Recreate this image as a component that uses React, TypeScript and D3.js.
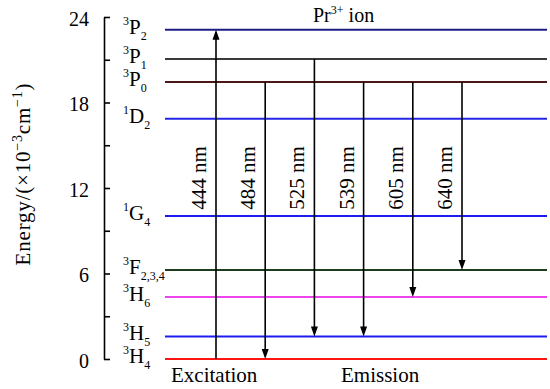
import React, { useEffect, useRef } from 'react';
import * as d3 from 'd3';

// energy levels of Pr3+ (x1000 cm^-1)
const levelNames = ['3P2', '3P1', '3P0', '1D2', '1G4', '3F', '3H6', '3H5', '3H4'];
const levelEnergy = [23.1, 21.05, 19.44, 16.86, 10.04, 6.25, 4.35, 1.58, 0];
const levelSup = ['3', '3', '3', '1', '1', '3', '3', '3', '3'];
const levelLetter = ['P', 'P', 'P', 'D', 'G', 'F', 'H', 'H', 'H'];
const levelSub = ['2', '1', '0', '2', '4', '2,3,4', '6', '5', '4'];
const levelColor = ['#1c1c86', '#3a3a3a', '#4a1818', '#2424e6', '#1c1cf0', '#1e3c1e', '#ee44ee', '#1c1cf0', '#ff1414'];

// transitions
const waveLengths = ['444', '484', '525', '539', '605', '640'];
const transFrom = ['3H4', '3P0', '3P1', '3P0', '3P0', '3P0'];
const transTo = ['3P2', '3H4', '3H5', '3H5', '3H6', '3F'];

const majorTicks = [0, 6, 12, 18, 24];
const minorTicks = [3, 9, 15, 21];

const W = 550;
const H = 389;
const font = 'Liberation Serif, Times New Roman, Times, serif';

const y = d3.scaleLinear().domain([0, 24]).range([359, 17]);
const x = d3.scalePoint().domain(waveLengths).range([216, 462]);
const axisX = 104;
const lineX0 = 165;
const lineX1 = 547;

const energyOf = (name: string) => levelEnergy[levelNames.indexOf(name)];

export default function App() {
  const axisRef = useRef<SVGGElement>(null);

  useEffect(() => {
    const g = d3.select(axisRef.current);
    g.selectAll('*').remove();

    const major = d3
      .axisLeft(y)
      .tickValues(majorTicks)
      .tickSizeInner(-6)
      .tickSizeOuter(0)
      .tickPadding(15)
      .tickFormat(d => d + '');
    const minor = d3
      .axisLeft(y)
      .tickValues(minorTicks)
      .tickSizeInner(-6)
      .tickSizeOuter(0)
      .tickFormat(() => '');

    g.append('g').call(major);
    g.append('g').call(minor).select('.domain').remove();

    g.selectAll('g').attr('font-family', null).attr('font-size', null);
    g.selectAll('path, line').attr('stroke', '#000').attr('stroke-width', 1.6);
    g.selectAll('text')
      .style('font-family', font)
      .style('font-size', '20px')
      .attr('fill', '#000')
      .attr('dy', '0.4em');
  }, []);

  const arrowHead = (xc: number, yTip: number, dir: number) => {
    const len = 10;
    const hw = 3.5;
    return `M${xc},${yTip} L${xc - hw},${yTip - dir * len} L${xc + hw},${yTip - dir * len} Z`;
  };

  return (
    <svg
      width={W}
      height={H}
      style={{ position: 'absolute', left: 0, top: 0, background: '#fff', fontFamily: font }}
    >
      <g ref={axisRef} transform={`translate(${axisX},0)`} />

      {/* y axis title */}
      <text
        transform={`translate(30,174) rotate(-90)`}
        textAnchor="middle"
        style={{ fontSize: 21, letterSpacing: 0.8 }}
      >
        Energy/(×10<tspan style={{ fontSize: 14 }} dy={-8}>−3</tspan>
        <tspan dy={8}>cm</tspan>
        <tspan style={{ fontSize: 14 }} dy={-8}>−1</tspan>
        <tspan dy={8}>)</tspan>
      </text>

      {levelNames.map((n, i) => (
        <g key={n}>
          <line
            x1={lineX0}
            x2={lineX1}
            y1={y(levelEnergy[i])}
            y2={y(levelEnergy[i])}
            stroke={levelColor[i]}
            strokeWidth={2}
          />
          <text x={123} y={y(levelEnergy[i]) + 4} style={{ fontSize: 21 }}>
            <tspan style={{ fontSize: 12 }} dy={-9}>{levelSup[i]}</tspan>
            <tspan dy={9}>{levelLetter[i]}</tspan>
            <tspan style={{ fontSize: 12 }} dy={6}>{levelSub[i]}</tspan>
          </text>
        </g>
      ))}

      {waveLengths.map((w, i) => {
        const xc = x(w) as number;
        const y0 = y(energyOf(transFrom[i]));
        const y1 = y(energyOf(transTo[i]));
        const dir = y1 > y0 ? 1 : -1;
        return (
          <g key={w}>
            <line x1={xc} x2={xc} y1={y0} y2={y1 - dir * 8} stroke="#000" strokeWidth={1.6} />
            <path d={arrowHead(xc, y1, dir)} fill="#000" />
            <text
              transform={`translate(${xc - 10},178) rotate(-90)`}
              textAnchor="middle"
              style={{ fontSize: 21 }}
            >
              {w} nm
            </text>
          </g>
        );
      })}

      <text x={313} y={22} style={{ fontSize: 20 }}>
        Pr<tspan style={{ fontSize: 12 }} dy={-8}>3+</tspan>
        <tspan dy={8}> ion</tspan>
      </text>
      <text x={171} y={382} style={{ fontSize: 21 }}>
        Excitation
      </text>
      <text x={341} y={382} style={{ fontSize: 21 }}>
        Emission
      </text>
    </svg>
  );
}
